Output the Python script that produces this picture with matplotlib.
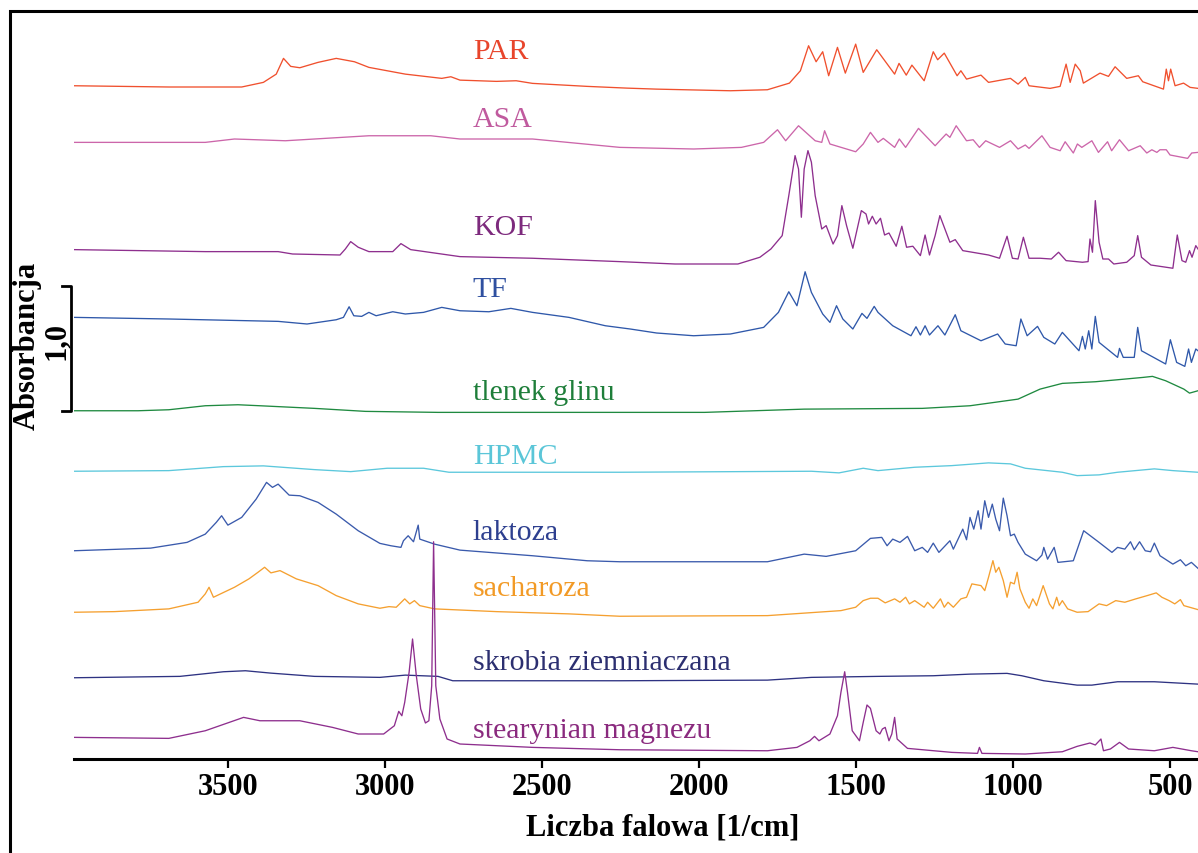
import matplotlib
matplotlib.use("Agg")
import matplotlib.pyplot as plt
import matplotlib.transforms as mtransforms
from matplotlib.patches import Rectangle
from matplotlib.lines import Line2D

plt.rcParams['font.family'] = ['Liberation Serif', 'DejaVu Serif']

# Widma FTIR: liczba falowa [1/cm] i absorbancja wzgledem linii bazowej
par_wn = [3990, 3688, 3456, 3387, 3346, 3323, 3300, 3271, 3213, 3155, 3097, 3051, 2935, 2819, 2790,
          2761, 2645, 2582, 2530, 2356, 2229, 2135, 1900, 1782, 1712, 1677, 1651, 1627, 1606, 1587,
          1559, 1534, 1501, 1477, 1434, 1377, 1363, 1340, 1322, 1283, 1254, 1240, 1219, 1178, 1166,
          1148, 1102, 1078, 1008, 984, 961, 949, 882, 850, 831, 818, 802, 786, 776, 723,
          696, 675, 638, 601, 587, 521, 512, 505, 498, 484, 457, 436, 411]
par_abs = [0, -0.01, -0.01, 0.027, 0.093, 0.219, 0.155, 0.144, 0.187, 0.219, 0.192, 0.147, 0.093, 0.059, 0.072,
           0.045, 0.035, 0.04, 0.019, -0.005, -0.019, -0.027, -0.04, -0.032, 0.021, 0.12, 0.32, 0.192, 0.272, 0.08,
           0.307, 0.101, 0.333, 0.107, 0.288, 0.093, 0.179, 0.085, 0.165, 0.04, 0.272, 0.208, 0.261, 0.08, 0.12,
           0.053, 0.085, 0.027, 0.059, 0.013, 0.067, 0, -0.021, -0.005, 0.173, 0.027, 0.173, 0.12, 0.021, 0.101,
           0.075, 0.152, 0.059, 0.08, 0.032, -0.027, 0.133, 0.04, 0.133, 0, 0.021, -0.013, -0.021]

asa_wn = [3990, 3572, 3479, 3317, 3051, 2854, 2761, 2530, 2252, 2017, 1865, 1794, 1750, 1724, 1683,
          1630, 1609, 1600, 1583, 1501, 1477, 1454, 1430, 1413, 1377, 1362, 1342, 1301, 1248, 1213,
          1201, 1181, 1148, 1127, 1107, 1087, 1043, 1008, 984, 961, 949, 908, 882, 850, 834,
          808, 795, 781, 749, 728, 699, 686, 661, 632, 595, 574, 558, 542, 532, 512,
          500, 444, 431, 411]
asa_abs = [0, 0, 0.027, 0.013, 0.053, 0.053, 0.027, 0.027, -0.04, -0.053, -0.04, 0, 0.101, 0.013, 0.133,
           0.013, 0, 0.093, -0.013, -0.075, -0.013, 0.08, 0, 0.032, -0.04, 0.027, -0.04, 0.112, -0.027, 0.067,
           0.04, 0.133, 0.013, 0.021, -0.04, 0.013, -0.04, 0.013, -0.053, -0.021, -0.048, 0.053, -0.04, -0.067, 0.005,
           -0.085, -0.013, -0.04, 0.013, -0.08, 0.005, -0.067, 0.021, -0.067, -0.027, -0.085, -0.059, -0.08, -0.059, -0.059,
           -0.101, -0.128, -0.085, -0.08]

kof_wn = [3990, 3572, 3340, 3294, 3143, 3126, 3109, 3085, 3051, 2975, 2949, 2918, 2761, 2530, 2252,
          2076, 1876, 1806, 1771, 1735, 1714, 1694, 1683, 1674, 1665, 1653, 1642, 1630, 1609, 1595,
          1573, 1559, 1545, 1530, 1510, 1483, 1468, 1460, 1448, 1436, 1422, 1409, 1395, 1372, 1354,
          1339, 1319, 1295, 1280, 1266, 1248, 1233, 1219, 1201, 1184, 1160, 1078, 1043, 1019, 1002,
          984, 967, 949, 914, 878, 855, 831, 779, 761, 755, 747, 738, 726, 714, 696,
          679, 638, 614, 603, 591, 561, 491, 477, 462, 450, 438, 430, 418, 411]
kof_abs = [0, -0.016, -0.016, -0.035, -0.043, 0.005, 0.064, 0.019, -0.016, -0.016, 0.048, 0, -0.056, -0.069, -0.096,
           -0.115, -0.115, -0.061, 0.005, 0.112, 0.432, 0.752, 0.645, 0.259, 0.645, 0.792, 0.699, 0.432, 0.165, 0.192,
           0.045, 0.112, 0.352, 0.192, 0.011, 0.312, 0.285, 0.205, 0.267, 0.205, 0.251, 0.117, 0.133, 0.027, 0.187,
           0.019, 0.027, -0.048, 0.117, -0.043, 0.112, 0.272, 0.179, 0.059, 0.08, -0.008, -0.043, -0.069, 0.107, -0.069,
           -0.075, 0.099, -0.069, -0.069, -0.075, -0.021, -0.088, -0.101, -0.096, 0.085, -0.021, 0.392, 0.059, -0.075, -0.075,
           -0.115, -0.101, -0.048, 0.112, -0.061, -0.123, -0.149, 0.117, -0.088, -0.101, -0.008, -0.061, 0.032, 0.005]

tf_wn = [3990, 3688, 3340, 3248, 3155, 3132, 3114, 3099, 3074, 3051, 3028, 2975, 2935, 2877, 2819,
         2761, 2669, 2599, 2530, 2414, 2298, 2219, 2135, 2017, 1900, 1794, 1747, 1714, 1688, 1662,
         1642, 1606, 1583, 1562, 1542, 1510, 1481, 1465, 1442, 1430, 1383, 1325, 1309, 1295, 1280,
         1266, 1239, 1217, 1184, 1166, 1102, 1049, 1025, 990, 975, 955, 922, 902, 867, 843,
         790, 779, 770, 759, 749, 738, 726, 667, 661, 649, 614, 603, 591, 514, 499,
         479, 453, 441, 432, 418, 411]
tf_abs = [0, -0.013, -0.032, -0.053, -0.019, 0, 0.085, 0.013, 0.008, 0.04, 0.013, 0.045, 0.027, 0.04, 0.08,
          0.053, 0.045, 0.072, 0.04, 0, -0.067, -0.093, -0.125, -0.147, -0.133, -0.08, 0.04, 0.205, 0.093, 0.365,
          0.2, 0.027, -0.04, 0.093, -0.013, -0.093, 0.032, -0.008, 0.088, 0.04, -0.067, -0.147, -0.075, -0.141, -0.067,
          -0.141, -0.067, -0.141, 0.021, -0.107, -0.187, -0.133, -0.213, -0.227, -0.013, -0.147, -0.072, -0.16, -0.213, -0.12,
          -0.267, -0.152, -0.253, -0.107, -0.253, 0.008, -0.2, -0.32, -0.248, -0.32, -0.32, -0.08, -0.267, -0.373, -0.179,
          -0.36, -0.392, -0.253, -0.36, -0.253, -0.267]

tlenek_wn = [3990, 3786, 3688, 3572, 3468, 3398, 3224, 3062, 2831, 2252, 1982, 1665, 1289, 1137, 984,
             914, 843, 738, 667, 585, 556, 514, 456, 438, 411]
tlenek_abs = [0, 0, 0.008, 0.04, 0.048, 0.04, 0.019, -0.005, -0.013, -0.013, -0.013, 0.013, 0.019, 0.04, 0.093,
              0.173, 0.219, 0.232, 0.248, 0.267, 0.275, 0.24, 0.173, 0.141, 0.16]

hpmc_wn = [3990, 3688, 3514, 3387, 3224, 3109, 2993, 2877, 2796, 2252, 1642, 1554, 1477, 1430, 1313,
           1195, 1078, 1008, 961, 843, 796, 726, 667, 550, 491, 411]
hpmc_abs = [0, 0.005, 0.037, 0.043, 0.013, -0.003, 0.024, 0.024, -0.008, -0.008, 0, -0.013, 0.024, 0.005, 0.032,
            0.045, 0.067, 0.059, 0.024, -0.008, -0.035, -0.029, -0.008, 0.019, 0.005, -0.008]

laktoza_wn = [3990, 3746, 3630, 3572, 3537, 3520, 3500, 3456, 3410, 3377, 3358, 3340, 3305, 3271, 3213,
              3155, 3085, 3016, 2981, 2949, 2941, 2926, 2909, 2894, 2889, 2842, 2761, 2530, 2356, 2252,
              1782, 1665, 1595, 1501, 1454, 1418, 1401, 1383, 1360, 1336, 1313, 1289, 1272, 1254, 1236,
              1201, 1190, 1160, 1148, 1137, 1125, 1111, 1102, 1090, 1078, 1066, 1055, 1043, 1031, 1019,
              1008, 996, 984, 961, 925, 908, 902, 890, 869, 857, 808, 775, 726, 685, 667,
              644, 626, 614, 597, 579, 562, 550, 532, 491, 467, 450, 432, 411]
laktoza_abs = [0, 0.021, 0.067, 0.133, 0.227, 0.28, 0.205, 0.267, 0.413, 0.547, 0.507, 0.533, 0.445, 0.44, 0.387,
               0.293, 0.16, 0.059, 0.04, 0.027, 0.08, 0.12, 0.072, 0.205, 0.093, 0.053, 0.005, -0.04, -0.08, -0.088,
               -0.088, -0.027, -0.045, 0, 0.099, 0.107, 0.04, 0.093, 0.067, 0.115, 0, 0.027, -0.013, 0.061, -0.013,
               0.08, 0.013, 0.173, 0.088, 0.267, 0.173, 0.32, 0.173, 0.4, 0.267, 0.373, 0.253, 0.16, 0.421, 0.28,
               0.12, 0.133, 0.067, -0.027, -0.08, -0.035, 0.027, -0.067, 0.027, -0.093, -0.08, 0.16, 0.067, -0.013, 0.027,
               0.013, 0.072, 0.008, 0.072, 0, -0.008, 0.061, -0.04, -0.107, -0.072, -0.12, -0.093, -0.141]

sacharoza_wn = [3990, 3861, 3688, 3595, 3572, 3560, 3546, 3479, 3433, 3404, 3383, 3363, 3334, 3282, 3213,
                3155, 3085, 3016, 2987, 2964, 2937, 2921, 2906, 2889, 2842, 2645, 2414, 2252, 1782, 1548,
                1501, 1477, 1454, 1430, 1407, 1377, 1360, 1342, 1330, 1313, 1283, 1272, 1254, 1231, 1219,
                1207, 1190, 1166, 1148, 1131, 1102, 1090, 1078, 1064, 1055, 1045, 1031, 1019, 1008, 996,
                987, 978, 961, 949, 937, 925, 904, 884, 873, 861, 853, 843, 826, 796, 761,
                726, 702, 673, 644, 609, 573, 544, 526, 503, 485, 467, 456, 411]
sacharoza_abs = [0, 0.005, 0.027, 0.08, 0.147, 0.2, 0.12, 0.2, 0.267, 0.32, 0.36, 0.315, 0.333, 0.267, 0.213,
                 0.133, 0.067, 0.032, 0.045, 0.04, 0.107, 0.067, 0.093, 0.053, 0.027, 0.005, -0.013, -0.032, -0.027, 0.013,
                 0.04, 0.093, 0.112, 0.112, 0.075, 0.107, 0.08, 0.12, 0.067, 0.093, 0.04, 0.08, 0.032, 0.107, 0.04,
                 0.08, 0.04, 0.107, 0.12, 0.227, 0.213, 0.173, 0.28, 0.413, 0.32, 0.36, 0.253, 0.12, 0.24, 0.227,
                 0.32, 0.187, 0.08, 0.032, 0.107, 0.053, 0.213, 0.067, 0.027, 0.12, 0.053, 0.093, 0.027, 0, 0.005,
                 0.067, 0.053, 0.093, 0.08, 0.107, 0.133, 0.155, 0.12, 0.093, 0.067, 0.101, 0.053, 0.021]

skrobia_wn = [3990, 3653, 3514, 3444, 3363, 3224, 3016, 2935, 2831, 2784, 2252, 1782, 1642, 1430, 1254,
              1137, 1019, 972, 902, 796, 749, 667, 550, 411]
skrobia_abs = [0, 0.011, 0.048, 0.056, 0.037, 0.011, 0.003, 0.021, 0.011, -0.024, -0.024, -0.019, 0.003, 0.011, 0.016,
               0.029, 0.035, 0.016, -0.024, -0.059, -0.059, -0.032, -0.032, -0.051]

stearynian_wn = [3990, 3688, 3572, 3450, 3398, 3271, 3167, 3085, 3004, 2970, 2956, 2946, 2937, 2923, 2912,
                 2900, 2886, 2871, 2860, 2851, 2845, 2838, 2825, 2802, 2761, 2530, 2252, 1782, 1688, 1647,
                 1632, 1618, 1583, 1559, 1548, 1536, 1527, 1512, 1489, 1477, 1465, 1454, 1436, 1424, 1416,
                 1407, 1395, 1386, 1377, 1369, 1336, 1195, 1113, 1107, 1099, 961, 843, 796, 755, 738,
                 720, 712, 690, 661, 632, 550, 491, 432, 411]
stearynian_abs = [0, -0.008, 0.053, 0.16, 0.133, 0.133, 0.08, 0.027, 0.027, 0.093, 0.208, 0.173, 0.28, 0.52, 0.787,
                  0.493, 0.227, 0.115, 0.133, 0.413, 1.565, 0.413, 0.147, -0.013, -0.053, -0.08, -0.099, -0.107, -0.08, -0.027,
                  0.008, -0.027, 0.027, 0.173, 0.36, 0.525, 0.36, 0.053, -0.027, 0.12, 0.259, 0.232, 0.053, 0.027, 0.067,
                  0.08, -0.027, 0.027, 0.16, -0.013, -0.088, -0.12, -0.128, -0.08, -0.128, -0.133, -0.115, -0.072, -0.045, -0.061,
                  -0.013, -0.107, -0.093, -0.04, -0.093, -0.107, -0.08, -0.107, -0.115]

nazwy = ['PAR', 'ASA', 'KOF', 'TF', 'tlenek glinu', 'HPMC', 'laktoza', 'sacharoza',
         'skrobia ziemniaczana', 'stearynian magnezu']
widma = [(par_wn, par_abs), (asa_wn, asa_abs), (kof_wn, kof_abs), (tf_wn, tf_abs),
         (tlenek_wn, tlenek_abs), (hpmc_wn, hpmc_abs), (laktoza_wn, laktoza_abs),
         (sacharoza_wn, sacharoza_abs), (skrobia_wn, skrobia_abs), (stearynian_wn, stearynian_abs)]

# przesuniecie widm w pionie i polozenie podpisow (jednostki absorbancji)
przesuniecia = [5.386, 4.933, 4.075, 3.533, 2.786, 2.302, 1.666, 1.174, 0.650, 0.173]
podpis_y = [5.664, 5.12, 4.256, 3.76, 2.936, 2.424, 1.816, 1.368, 0.776, 0.232]
kolory_linii = ['#f0502e', '#cc66aa', '#8e2f8e', '#2f58aa', '#1f8a40', '#5cc8dc',
                '#3a5aac', '#f5a030', '#2e3282', '#8e2f8e']
kolory_tekstu = ['#e8452c', '#c05a9e', '#7d2a7d', '#2f50a0', '#1e7e3a', '#5bc6d8',
                 '#2d3f8f', '#f29a26', '#2c2f70', '#8a2a7e']

W, H = 1198, 854
fig = plt.figure(figsize=(W / 100, H / 100), dpi=100)
ax = fig.add_axes([74 / W, 1 - 760 / H, 1 - 74 / W, (760 - 11) / H])

for (wn, ab), off, kol in zip(widma, przesuniecia, kolory_linii):
    ax.plot(wn, [a + off for a in ab], color=kol, lw=0.95)

for nazwa, yy, kol in zip(nazwy, podpis_y, kolory_tekstu):
    ax.text(2720, yy, nazwa, color=kol, fontsize=21.5, ha='left', va='center')

ax.set_xlim(3990, 411)
ax.set_ylim(0, 749 / 125)
for s in ['left', 'top', 'right']:
    ax.spines[s].set_visible(False)
ax.spines['bottom'].set_linewidth(2.2)
ax.set_yticks([])
ax.set_xticks([3500, 3000, 2500, 2000, 1500, 1000, 500])
ax.tick_params(axis='x', direction='out', length=6.5, width=1.6, pad=3, labelsize=22)
for lab in ax.get_xticklabels():
    lab.set_fontweight('bold')

fig.text(663 / W, 1 - 828 / H, 'Liczba falowa [1/cm]', fontsize=22, fontweight='bold',
         ha='center', va='center')
fig.text(27 / W, 1 - 346 / H, 'Absorbancja', fontsize=22, fontweight='bold', rotation=90,
         ha='center', va='center')
fig.text(56 / W, 1 - 341 / H, '1,0', fontsize=22, fontweight='bold', rotation=90,
         ha='center', va='center')

# skala absorbancji 1,0
tr = mtransforms.blended_transform_factory(fig.transFigure, ax.transData)
y0 = przesuniecia[4]
fig.add_artist(Line2D([62 / W, 71 / W, 71 / W, 62 / W], [y0 + 1.0, y0 + 1.0, y0, y0],
                      transform=tr, color='black', lw=2.0))

# ramka
fig.add_artist(Rectangle((9.5 / W, -0.2), 1.3, 1.2 - 11.5 / H, transform=fig.transFigure,
                         fill=False, lw=2.2, edgecolor='black'))

fig.savefig('out.png', dpi=100)
